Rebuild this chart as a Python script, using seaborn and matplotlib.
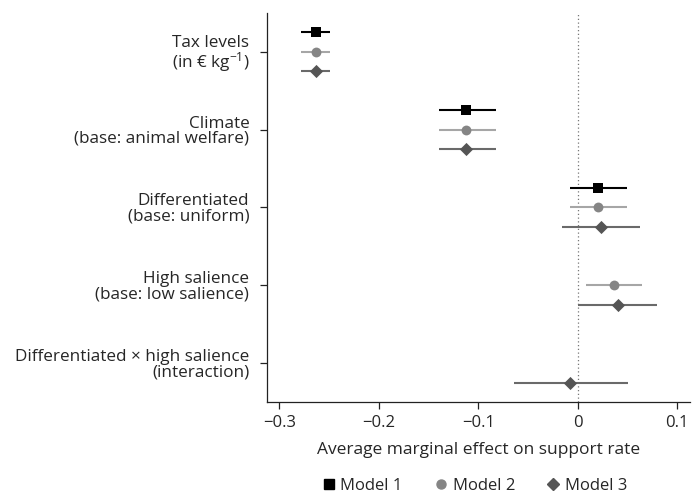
import matplotlib
matplotlib.use("Agg")
import matplotlib.pyplot as plt
import seaborn as sns
import pandas as pd
from matplotlib.lines import Line2D

terms = ["Tax levels\n(in € kg$^{-1}$)", "Climate\n(base: animal welfare)",
         "Differentiated\n(base: uniform)", "High salience\n(base: low salience)",
         "Differentiated × high salience\n(interaction)"]
models = ["Model 1", "Model 2", "Model 3"]

# estimates and 95% CI bounds per model (None = not in model)
m1_est = [-0.263, -0.112, 0.020, None, None]
m1_lo = [-0.278, -0.140, -0.008, None, None]
m1_hi = [-0.249, -0.082, 0.049, None, None]

m2_est = [-0.263, -0.112, 0.020, 0.0365, None]
m2_lo = [-0.278, -0.140, -0.008, 0.008, None]
m2_hi = [-0.249, -0.082, 0.049, 0.065, None]

m3_est = [-0.263, -0.112, 0.023, 0.040, -0.0074]
m3_lo = [-0.278, -0.140, -0.016, 0.000, -0.064]
m3_hi = [-0.249, -0.082, 0.063, 0.080, 0.050]

xticks = [-0.3, -0.2, -0.1, 0, 0.1]
xticklabels = ["\u22120.3", "\u22120.2", "\u22120.1", "0", "0.1"]

sns.set_theme(style="ticks")
plt.rcParams["font.family"] = ["Open Sans", "DejaVu Sans"]
plt.rcParams["mathtext.fontset"] = "custom"
plt.rcParams["mathtext.rm"] = "Open Sans"
plt.rcParams["mathtext.default"] = "rm"

rows = []
for m, (est, lo, hi) in zip(models, [(m1_est, m1_lo, m1_hi), (m2_est, m2_lo, m2_hi), (m3_est, m3_lo, m3_hi)]):
    for i, t in enumerate(terms):
        if est[i] is not None:
            rows.append(dict(term=t, ti=i, model=m, est=est[i], lo=lo[i], hi=hi[i]))
df = pd.DataFrame(rows)
offset = {"Model 1": -0.25, "Model 2": 0.0, "Model 3": 0.25}
df["y"] = df["ti"] + df["model"].map(offset)

marker_col = {"Model 1": "#000000", "Model 2": "#858585", "Model 3": "#555555"}
line_col = {"Model 1": "#000000", "Model 2": "#a6a6a6", "Model 3": "#6a6a6a"}
markers = {"Model 1": "s", "Model 2": "o", "Model 3": "D"}
sizes = {"Model 1": 60, "Model 2": 50, "Model 3": 45}

fig = plt.figure(figsize=(7, 4.94), dpi=100)
ax = fig.add_axes([0.382, 0.186, 0.604, 0.788])

ax.axvline(0, color="#777777", linestyle=(0, (1, 2)), linewidth=0.9, zorder=0)
for m in models:
    d = df[df["model"] == m]
    ax.hlines(d["y"], d["lo"], d["hi"], color=line_col[m], linewidth=1.5, zorder=1)
    sns.scatterplot(data=d, x="est", y="y", marker=markers[m], color=marker_col[m],
                    s=sizes[m], linewidth=0, ax=ax, zorder=2, legend=False)

ax.set_xlim(-0.312, 0.113)
ax.set_ylim(4.5, -0.5)
ax.set_yticks(range(len(terms)))
ax.set_yticklabels(terms, fontsize=12.3, linespacing=0.92)
ax.set_xticks(xticks)
ax.set_xticklabels(xticklabels, fontsize=12)
ax.set_xlabel("Average marginal effect on support rate", fontsize=12.5, labelpad=8)
ax.set_ylabel("")
for s in ["top", "right"]:
    ax.spines[s].set_visible(False)
for s in ["left", "bottom"]:
    ax.spines[s].set_linewidth(0.9)
    ax.spines[s].set_color("#222222")
ax.tick_params(axis="both", length=5, width=0.9, color="#222222")
ax.tick_params(axis="y", pad=8)
ax.tick_params(axis="x", pad=4)

handles = [Line2D([], [], linestyle="none", marker=markers[m], color=marker_col[m],
                  markersize=6.5 if m != "Model 3" else 6) for m in models]
fig.legend(handles, models, loc="center", bbox_to_anchor=(0.677, 0.016), ncol=3,
           frameon=False, fontsize=12, handletextpad=0.2, columnspacing=1.8,
           handlelength=1.0)

fig.savefig("out.png", dpi=100)
